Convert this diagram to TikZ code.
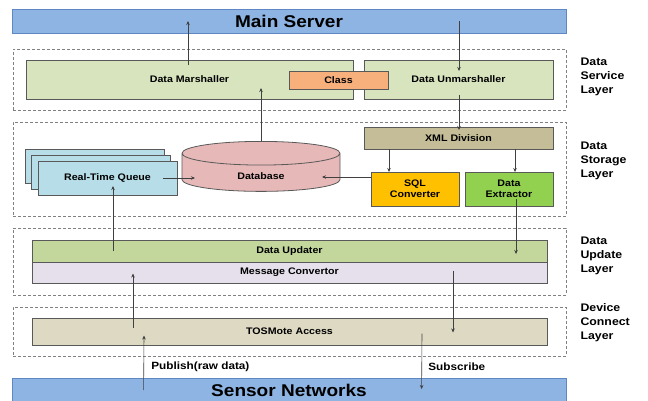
\documentclass[tikz,border=0pt]{standalone}
\usepackage{fontspec}
\setmainfont{Liberation Sans}[FakeStretch=1.12]
\usetikzlibrary{positioning,shapes.geometric,shadows,calc,arrows.meta}

\definecolor{barblue}{RGB}{141,180,226}
\definecolor{barline}{RGB}{95,135,195}
\definecolor{dsgreen}{RGB}{215,228,189}
\definecolor{classorange}{RGB}{247,176,124}
\definecolor{xmltan}{RGB}{196,189,151}
\definecolor{sqlgold}{RGB}{255,192,0}
\definecolor{leaf}{RGB}{146,208,80}
\definecolor{dbpink}{RGB}{230,185,184}
\definecolor{queueblue}{RGB}{183,222,232}
\definecolor{updgreen}{RGB}{195,214,155}
\definecolor{lav}{RGB}{230,224,236}
\definecolor{tosbeige}{RGB}{221,217,195}
\definecolor{edge}{RGB}{89,89,89}

\begin{document}
\begin{tikzpicture}[x=1pt,y=-1pt,
    box/.style={draw=edge,line width=0.8pt,inner sep=0pt,outer sep=0pt,align=center,
      font=\bfseries\fontsize{9.5}{11}\selectfont},
    layer/.style={draw=gray,densely dashed,line width=0.8pt,minimum width=553pt,inner sep=0pt},
    bar/.style={draw=barline,fill=barblue,line width=0.8pt,minimum width=554pt,inner sep=0pt,
      font=\bfseries\fontsize{17}{19}\selectfont},
    side/.style={anchor=west,align=left,font=\bfseries\fontsize{11}{14}\selectfont},
    tag/.style={font=\bfseries\fontsize{10.5}{12}\selectfont},
    arr/.style={draw=black!75,line width=0.6pt,-{Stealth[length=4pt,width=3.5pt]}}]
      \useasboundingbox (0,0) rectangle (648,400);

      \node[layer,minimum height=61pt] (svc) at (289.5,79.5) {};
      \node[layer,minimum height=94pt] (sto) at (289.5,169) {};
      \node[layer,minimum height=67pt] (updl) at (289.5,261.5) {};
      \node[layer,minimum height=49pt] (dev) at (289.5,331.5) {};

      \node[bar,minimum height=24pt] (main) at (289,21) {Main Server};
      \node[bar,minimum height=24pt] (sensor) at (289,390) {Sensor Networks};

      \node[box,fill=dsgreen,minimum width=327pt,minimum height=39pt] (marsh) at (189.5,79.5) {Data Marshaller};
      \node[box,fill=dsgreen,minimum width=189pt,minimum height=39pt] (unmarsh) at (458.5,79.5) {Data Unmarshaller};
      \node[box,fill=classorange,minimum width=99pt,minimum height=18pt] (class) at (338.5,80) {Class};

      \node[box,fill=xmltan,minimum width=189pt,minimum height=22pt] (xml) at (458.5,138) {XML Division};
      \node[box,fill=sqlgold,minimum width=88pt,minimum height=34pt] (sql) at (415,189) {SQL\\Converter};
      \node[box,fill=leaf,minimum width=88pt,minimum height=34pt] (extr) at (509,189) {Data\\Extractor};
      \node[box,fill=queueblue,minimum width=139pt,minimum height=34pt,
        double copy shadow={shadow xshift=-6.5pt,shadow yshift=6pt}] (rtq) at (107.5,178) {Real-Time Queue};
      \node[box,fill=dbpink,cylinder,shape border rotate=90,aspect=0.5,text height=14pt,
        minimum width=158pt,minimum height=47pt] (db) at (261,172.5) {Database};

      \node[box,fill=updgreen,minimum width=515pt,minimum height=22pt] (upd) at (289.5,251) {Data Updater};
      \node[box,fill=lav,minimum width=515pt,minimum height=21pt,below=0pt of upd] (msg) {Message Convertor};
      \node[box,fill=tosbeige,minimum width=515pt,minimum height=27pt] (tos) at (289.5,331.5) {TOSMote Access};

      \node[side] (l1) at (577,77) {Data\\Service\\Layer};
      \node[side] (l2) at (577,161) {Data\\Storage\\Layer};
      \node[side] (l3) at (577,256) {Data\\Update\\Layer};
      \node[side] (l4) at (577,323) {Device\\Connect\\Layer};

      \draw[arr] ($(marsh.north)+(-1.5,5)$) -- ($(marsh.north |- main.center)+(-1.5,0)$);
      \draw[arr] ($(unmarsh.north |- main.center)+(0.5,0)$) -- ($(unmarsh.north)+(0.5,11)$);
      \draw[arr] ($(unmarsh.south)+(0.5,-4)$) -- ($(xml.north)+(0.5,3)$);
      \draw[arr] (db.north) -- ($(db.north |- marsh.south)+(0,-11)$);
      \draw[arr] ($(rtq.east)+(-14,0)$) -- ($(rtq.east -| db.west)+(13,0)$);
      \draw[arr] ($(sql.west)+(0,-12)$) -- ($(db.east |- sql.west)+(-18,-12)$);
      \draw[arr] ($(sql.north |- xml.south)+(-26,0)$) -- ($(sql.north)+(-26,0)$);
      \draw[arr] ($(extr.north |- xml.south)+(6,0)$) -- ($(extr.north)+(6,0)$);
      \draw[arr] ($(extr.south)+(7,-7)$) -- ($(extr.south |- upd.center)+(7,3)$);
      \draw[arr] ($(rtq.south |- upd.center)+(5.5,0)$) -- ($(rtq.south)+(5.5,-9)$);
      \draw[arr] ($(tos.west)+(101,-4)$) -- ($(msg.west)+(101,1)$);
      \draw[arr] ($(msg.west)+(421,-2)$) -- ($(tos.west)+(421,1)$);
      \draw[arr] ($(sensor.west)+(132,0)$) -- node[tag,pos=0.42,right,xshift=4pt] {Publish(raw data)} ($(tos.west)+(112,4)$);
      \draw[arr] ($(tos.west)+(390,2)$) -- node[tag,pos=0.6,right,xshift=3pt] {Subscribe} ($(sensor.west)+(410,-1)$);
    \end{tikzpicture}
\end{document}
